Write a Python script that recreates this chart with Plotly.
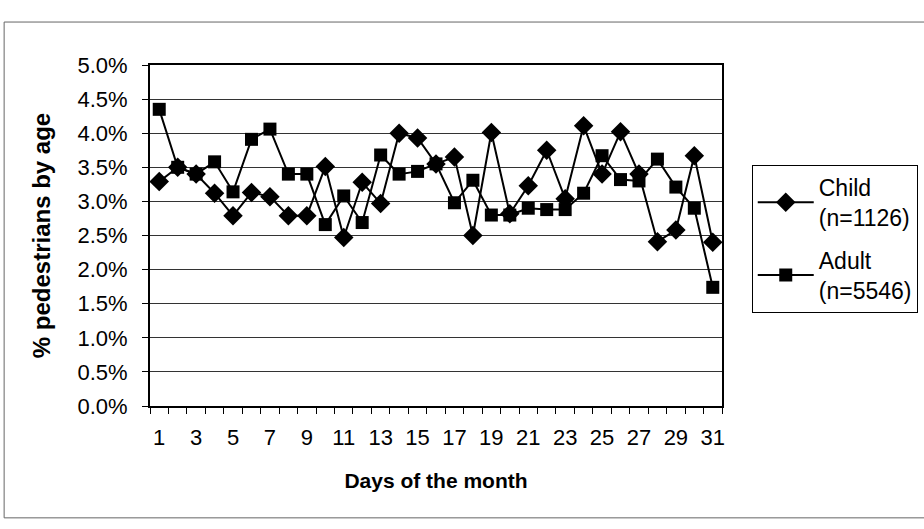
import plotly.graph_objects as go

days = list(range(1, 32))
child = [3.29, 3.50, 3.40, 3.12, 2.79, 3.13, 3.07, 2.79, 2.79, 3.51, 2.47, 3.28, 2.97, 4.00, 3.93, 3.55,
         3.65, 2.50, 4.01, 2.82, 3.23, 3.75, 3.04, 4.11, 3.40, 4.02, 3.40, 2.41, 2.58, 3.67, 2.40]
adult = [4.35, 3.50, 3.40, 3.58, 3.14, 3.91, 4.06, 3.40, 3.40, 2.66, 3.08, 2.69, 3.68, 3.40, 3.44, 3.55,
         2.98, 3.31, 2.80, 2.80, 2.90, 2.88, 2.88, 3.12, 3.67, 3.32, 3.30, 3.62, 3.21, 2.90, 1.74]
x_labels = [str(d) for d in days[::2]]

font = 'Liberation Sans, Arial, sans-serif'

trace1 = go.Scatter(
    x=days, y=[v / 100 for v in child], mode='lines+markers', name='Child<br>(n=1126)',
    legendgroup='child',
    line={'color': 'black', 'width': 2},
    marker={'symbol': 'diamond', 'size': 15, 'color': 'black'},
)
trace2 = go.Scatter(
    x=days, y=[v / 100 for v in adult], mode='lines+markers', name='Adult<br>(n=5546)',
    legendgroup='adult',
    line={'color': 'black', 'width': 2},
    marker={'symbol': 'square', 'size': 13, 'color': 'black'},
)

layout = go.Layout(
    width=924, height=529,
    margin=go.layout.Margin(autoexpand=False, l=150, r=202, t=65, b=123),
    paper_bgcolor='white', plot_bgcolor='white',
    font={'family': font, 'size': 22, 'color': 'black'},
    xaxis=dict(
        range=[0.5, 31.5], tickmode='array', tickvals=days[::2], ticktext=x_labels,
        ticks='outside', ticklen=11, tickcolor='rgba(0,0,0,0)',
        minor=dict(tickmode='linear', tick0=0.5, dtick=1, ticks='outside', ticklen=6,
                   tickcolor='black', showgrid=False),
        showgrid=False, zeroline=False, showline=True, mirror=True, linecolor='black', linewidth=2,
        title=dict(text='<b>Days of the month</b>', standoff=24, font={'size': 21}),
    ),
    yaxis=dict(
        range=[0, 0.05], dtick=0.005, tickformat='.1%',
        ticks='outside', ticklen=6, tickcolor='black', ticklabelstandoff=10,
        showgrid=True, gridcolor='#333333', gridwidth=1, zeroline=False,
        showline=True, mirror=True, linecolor='black', linewidth=2,
        title=dict(text='<b>% pedestrians by age</b>', standoff=20, font={'size': 24}),
    ),
    legend=dict(
        x=1.052, y=0.707, xanchor='left', yanchor='top',
        bordercolor='black', borderwidth=1, bgcolor='white',
        font={'size': 23}, itemwidth=56, tracegroupgap=10,
    ),
    shapes=[dict(type='rect', xref='paper', yref='paper', x0=-0.255, x1=1.36, y0=-0.328, y1=1.126,
                 line={'color': '#666666', 'width': 1})],
)
fig = go.Figure(data=[trace1, trace2], layout=layout)
fig.write_html('out.html', config={'displayModeBar': False},
               post_script="document.body.style.margin='0px';")
